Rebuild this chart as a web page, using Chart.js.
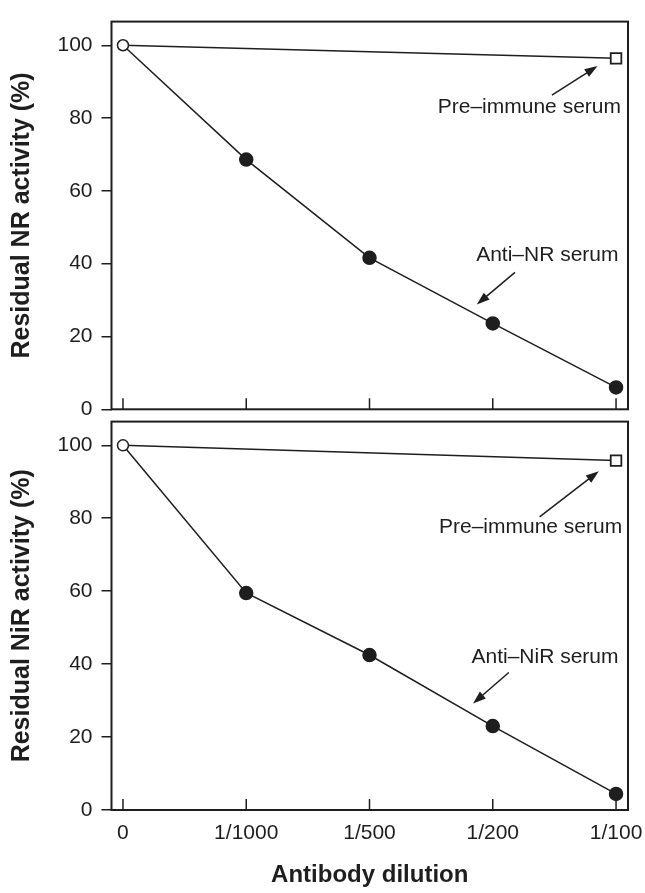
<!DOCTYPE html>
<html>
<head>
<meta charset="utf-8">
<script src="https://cdn.jsdelivr.net/npm/chart.js@4"></script>
<style>
body{margin:0;background:#fff;}
.panel{position:absolute;left:0;width:645px;}
#p1{top:0;height:440px;}
#p2{top:400px;height:493px;}
</style>
</head>
<body>
<div class="panel" id="p1"><canvas id="topChart"></canvas></div>
<div class="panel" id="p2"><canvas id="bottomChart"></canvas></div>
<script>
// data
const dilutions = ['0', '1/1000', '1/500', '1/200', '1/100'];
const yTicks = [0, 20, 40, 60, 80, 100];
const antiNR = [100, 68.6, 41.6, 23.6, 6.0];
const preImmuneNR = [100, null, null, null, 96.4];
const antiNiR = [100, 59.5, 42.5, 23.0, 4.4];
const preImmuneNiR = [100, null, null, null, 95.8];

const ink = '#1e1e1e';
Chart.defaults.font.family = '"Liberation Sans", Arial, sans-serif';
Chart.defaults.color = ink;

function toPoints(arr) {
    return arr.map((v, i) => ({x: i, y: v}));
}

function arrow(ctx, x1, y1, x2, y2) {
    const ang = Math.atan2(y2 - y1, x2 - x1);
    ctx.beginPath();
    ctx.moveTo(x1, y1);
    ctx.lineTo(x2 - 8 * Math.cos(ang), y2 - 8 * Math.sin(ang));
    ctx.stroke();
    ctx.beginPath();
    ctx.moveTo(x2, y2);
    ctx.lineTo(x2 - 13 * Math.cos(ang) + 4.5 * Math.sin(ang), y2 - 13 * Math.sin(ang) - 4.5 * Math.cos(ang));
    ctx.lineTo(x2 - 13 * Math.cos(ang) - 4.5 * Math.sin(ang), y2 - 13 * Math.sin(ang) + 4.5 * Math.cos(ang));
    ctx.closePath();
    ctx.fill();
}

// frame, inward x ticks and the labels with arrows
const panelDeco = {
    id: 'panelDeco',
    afterDraw(chart, args, opts) {
        const {ctx, chartArea: a, scales: {x, y}} = chart;
        ctx.save();
        ctx.strokeStyle = ink;
        ctx.fillStyle = ink;
        ctx.lineWidth = 2;
        ctx.strokeRect(a.left, a.top, a.right - a.left, a.bottom - a.top);
        ctx.lineWidth = 1.5;
        dilutions.forEach((d, i) => {
            const px = x.getPixelForValue(i);
            ctx.beginPath();
            ctx.moveTo(px, a.bottom);
            ctx.lineTo(px, a.bottom - 11);
            ctx.stroke();
        });
        ctx.font = '21px "Liberation Sans", Arial, sans-serif';
        ctx.textAlign = 'right';
        ctx.textBaseline = 'middle';
        opts.notes.forEach(n => {
            ctx.fillText(n.text, x.getPixelForValue(n.at[0]), y.getPixelForValue(n.at[1]));
            arrow(ctx, x.getPixelForValue(n.from[0]), y.getPixelForValue(n.from[1]),
                x.getPixelForValue(n.to[0]), y.getPixelForValue(n.to[1]));
        });
        ctx.restore();
    }
};

function makePanel(id, anti, pre, yTitle, notes, showX, padding) {
    const ctx = document.getElementById(id).getContext('2d');
    return new Chart(ctx, {
        type: 'line',
        data: {
            datasets: [{
                label: 'anti',
                data: toPoints(anti),
                borderColor: ink,
                borderWidth: 1.5,
                tension: 0,
                pointStyle: 'circle',
                pointRadius: anti.map((v, i) => i === 0 ? 5.5 : 6.5),
                pointBackgroundColor: anti.map((v, i) => i === 0 ? '#fff' : ink),
                pointBorderColor: ink,
                pointBorderWidth: 1.5
            }, {
                label: 'pre',
                data: toPoints(pre),
                spanGaps: true,
                borderColor: ink,
                borderWidth: 1.5,
                tension: 0,
                pointStyle: 'rect',
                pointRadius: pre.map((v, i) => i === 0 ? 0 : 7.5),
                pointBackgroundColor: '#fff',
                pointBorderColor: ink,
                pointBorderWidth: 1.8
            }]
        },
        options: {
            responsive: true,
            maintainAspectRatio: false,
            animation: false,
            layout: {padding: padding},
            plugins: {
                legend: {display: false},
                tooltip: {enabled: false},
                panelDeco: {notes: notes}
            },
            scales: {
                x: {
                    type: 'linear',
                    display: showX,
                    min: -0.093,
                    max: 4.097,
                    afterBuildTicks: s => { s.ticks = dilutions.map((d, i) => ({value: i})); },
                    afterFit: s => {
                        if (showX) s.height = 80;
                        s.paddingLeft = 0;
                        s.paddingRight = 0;
                    },
                    grid: {display: false, drawTicks: false},
                    border: {display: false},
                    ticks: {
                        padding: 11,
                        font: {size: 21},
                        maxRotation: 0,
                        callback: v => dilutions[v]
                    },
                    title: {
                        display: true,
                        text: 'Antibody dilution',
                        font: {size: 24, weight: 'bold'},
                        padding: {top: 0, bottom: 0}
                    }
                },
                y: {
                    min: 0,
                    max: 106.5,
                    afterBuildTicks: s => { s.ticks = yTicks.map(v => ({value: v})); },
                    afterFit: s => { s.width = 111.5; },
                    grid: {drawOnChartArea: false, tickLength: 10, color: ink, lineWidth: 1.5},
                    border: {display: false},
                    ticks: {padding: 9, font: {size: 21}},
                    title: {
                        display: true,
                        text: yTitle,
                        font: {size: 25, weight: 'bold'},
                        padding: {top: 7, bottom: 0}
                    }
                }
            }
        },
        plugins: [panelDeco]
    });
}

makePanel('topChart', antiNR, preImmuneNR, 'Residual NR activity (%)', [
    {text: 'Pre\u2013immune serum', at: [4.04, 82.9], from: [3.48, 86.3], to: [3.85, 94.3]},
    {text: 'Anti\u2013NR serum', at: [4.02, 42.4], from: [3.18, 37.6], to: [2.87, 28.8]}
], false, {top: 9.3, bottom: 30.7, left: 0, right: 17});

makePanel('bottomChart', antiNiR, preImmuneNiR, 'Residual NiR activity (%)', [
    {text: 'Pre\u2013immune serum', at: [4.05, 77.5], from: [3.38, 80.4], to: [3.86, 92.9]},
    {text: 'Anti\u2013NiR serum', at: [4.02, 41.9], from: [3.13, 37.7], to: [2.84, 29.2]}
], true, {top: 9.3, bottom: 3, left: 0, right: 17});
</script>
</body>
</html>
